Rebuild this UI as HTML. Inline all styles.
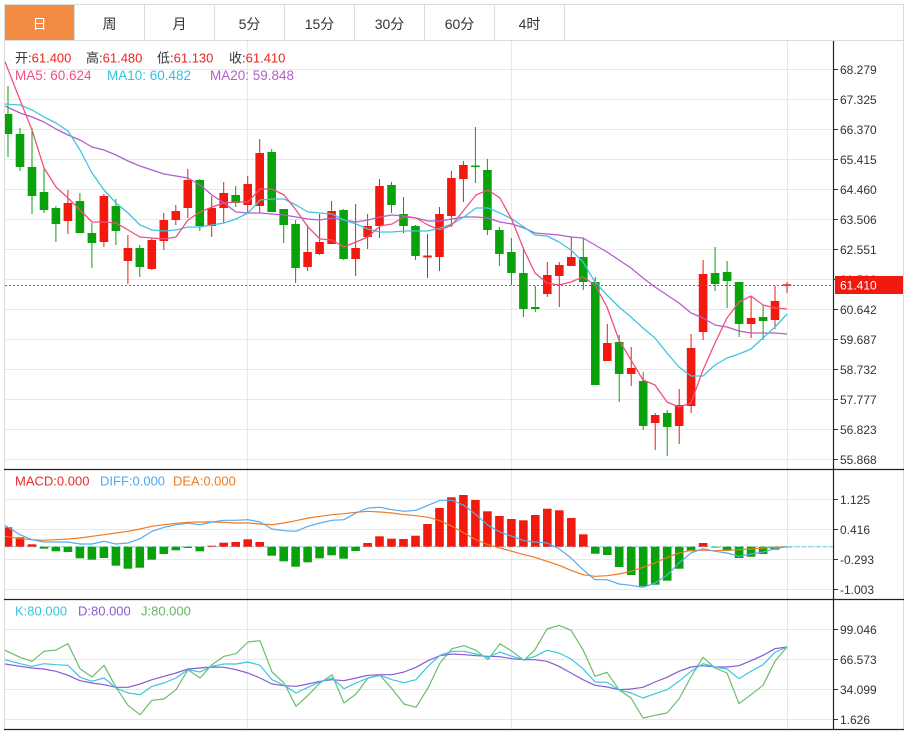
<!DOCTYPE html>
<html><head><meta charset="utf-8"><style>
html,body{margin:0;padding:0;background:#fff;}
svg{display:block;font-family:"Liberation Sans","Noto Sans CJK SC",sans-serif;}
</style></head><body>
<svg width="915" height="732" viewBox="0 0 915 732" xmlns="http://www.w3.org/2000/svg">
<defs><clipPath id="pa"><rect x="5" y="41" width="828" height="688"/></clipPath></defs>
<rect x="0" y="0" width="915" height="732" fill="#fff"/>
<!-- tab bar -->
<rect x="4.5" y="4.5" width="899" height="36" fill="#fff" stroke="#dcdcdc"/>
<rect x="5" y="5" width="69" height="35" fill="#f28c44"/>
<g stroke="#dcdcdc"><line x1="74.5" y1="5" x2="74.5" y2="40"/><line x1="144.5" y1="5" x2="144.5" y2="40"/><line x1="214.5" y1="5" x2="214.5" y2="40"/><line x1="284.5" y1="5" x2="284.5" y2="40"/><line x1="354.5" y1="5" x2="354.5" y2="40"/><line x1="424.5" y1="5" x2="424.5" y2="40"/><line x1="494.5" y1="5" x2="494.5" y2="40"/><line x1="564.5" y1="5" x2="564.5" y2="40"/></g>
<g font-size="14" text-anchor="middle" fill="#333">
<text x="39.5" y="28.8" fill="#fff">日</text><text x="109.5" y="28.8">周</text><text x="179.5" y="28.8">月</text><text x="249.5" y="28.8">5分</text><text x="319.5" y="28.8">15分</text><text x="389.5" y="28.8">30分</text><text x="459.5" y="28.8">60分</text><text x="529.5" y="28.8">4时</text>
</g>
<!-- frame -->
<line x1="4.5" y1="40" x2="4.5" y2="730" stroke="#dcdcdc"/>
<line x1="903.5" y1="40" x2="903.5" y2="730" stroke="#dcdcdc"/>
<!-- grid -->
<g stroke="#e3e9ef" stroke-width="1">
<line x1="5" y1="69.5" x2="833" y2="69.5"/><line x1="5" y1="99.5" x2="833" y2="99.5"/><line x1="5" y1="129.5" x2="833" y2="129.5"/><line x1="5" y1="159.5" x2="833" y2="159.5"/><line x1="5" y1="189.5" x2="833" y2="189.5"/><line x1="5" y1="219.5" x2="833" y2="219.5"/><line x1="5" y1="249.5" x2="833" y2="249.5"/><line x1="5" y1="279.5" x2="833" y2="279.5"/><line x1="5" y1="309.5" x2="833" y2="309.5"/><line x1="5" y1="339.5" x2="833" y2="339.5"/><line x1="5" y1="369.5" x2="833" y2="369.5"/><line x1="5" y1="399.5" x2="833" y2="399.5"/><line x1="5" y1="429.5" x2="833" y2="429.5"/><line x1="5" y1="459.5" x2="833" y2="459.5"/>
<line x1="5" y1="499.5" x2="833" y2="499.5"/><line x1="5" y1="529.5" x2="833" y2="529.5"/><line x1="5" y1="559.5" x2="833" y2="559.5"/><line x1="5" y1="589.5" x2="833" y2="589.5"/>
<line x1="5" y1="629.5" x2="833" y2="629.5"/><line x1="5" y1="659.5" x2="833" y2="659.5"/><line x1="5" y1="689.5" x2="833" y2="689.5"/><line x1="5" y1="719.5" x2="833" y2="719.5"/>
<line x1="247.5" y1="41" x2="247.5" y2="729"/><line x1="511.5" y1="41" x2="511.5" y2="729"/><line x1="787.5" y1="41" x2="787.5" y2="729"/>
</g>
<!-- headers -->
<g font-size="13">
<text x="15" y="62.3"><tspan fill="#333">开:</tspan><tspan fill="#f0231e">61.400</tspan></text>
<text x="86" y="62.3"><tspan fill="#333">高:</tspan><tspan fill="#f0231e">61.480</tspan></text>
<text x="157" y="62.3"><tspan fill="#333">低:</tspan><tspan fill="#f0231e">61.130</tspan></text>
<text x="229" y="62.3"><tspan fill="#333">收:</tspan><tspan fill="#f0231e">61.410</tspan></text>
</g>
<g font-size="13.5">
<text x="15" y="80" fill="#ef5080">MA5: 60.624</text>
<text x="107" y="80" fill="#30c3df">MA10: 60.482</text>
<text x="210" y="80" fill="#b35ecf">MA20: 59.848</text>
</g>
<g font-size="13">
<text x="15" y="485.5" fill="#f0282a">MACD:0.000</text>
<text x="100" y="485.5" fill="#4fa8f2">DIFF:0.000</text>
<text x="173" y="485.5" fill="#f27a1e">DEA:0.000</text>
<text x="15" y="615.5" fill="#35c4e0">K:80.000</text>
<text x="78" y="615.5" fill="#8b5ad6">D:80.000</text>
<text x="141" y="615.5" fill="#5fb85f">J:80.000</text>
</g>
<g clip-path="url(#pa)">
<!-- candles red -->
<g stroke="#f2190f" fill="#f2190f" stroke-width="1">
<line x1="67.9" y1="190" x2="67.9" y2="234"/><rect x="63.6" y="203" width="8.6" height="18" stroke="none"/>
<line x1="103.9" y1="194" x2="103.9" y2="247"/><rect x="99.6" y="196" width="8.6" height="46" stroke="none"/>
<line x1="127.9" y1="235" x2="127.9" y2="284"/><rect x="123.6" y="248" width="8.6" height="13" stroke="none"/>
<line x1="151.8" y1="238" x2="151.8" y2="270"/><rect x="147.5" y="240" width="8.6" height="29" stroke="none"/>
<line x1="163.8" y1="213" x2="163.8" y2="250"/><rect x="159.5" y="220" width="8.6" height="21" stroke="none"/>
<line x1="175.8" y1="205" x2="175.8" y2="225"/><rect x="171.5" y="211" width="8.6" height="9" stroke="none"/>
<line x1="187.8" y1="169" x2="187.8" y2="218"/><rect x="183.5" y="180" width="8.6" height="28" stroke="none"/>
<line x1="211.7" y1="196" x2="211.7" y2="237"/><rect x="207.4" y="208" width="8.6" height="18" stroke="none"/>
<line x1="223.7" y1="182" x2="223.7" y2="223"/><rect x="219.4" y="193" width="8.6" height="15" stroke="none"/>
<line x1="247.7" y1="176" x2="247.7" y2="213"/><rect x="243.4" y="184" width="8.6" height="21" stroke="none"/>
<line x1="259.7" y1="139" x2="259.7" y2="213"/><rect x="255.4" y="153" width="8.6" height="53" stroke="none"/>
<line x1="307.6" y1="225" x2="307.6" y2="271"/><rect x="303.3" y="252" width="8.6" height="15" stroke="none"/>
<line x1="319.6" y1="214" x2="319.6" y2="255"/><rect x="315.3" y="242" width="8.6" height="12" stroke="none"/>
<line x1="331.6" y1="201" x2="331.6" y2="244"/><rect x="327.3" y="211" width="8.6" height="33" stroke="none"/>
<line x1="355.6" y1="204" x2="355.6" y2="276"/><rect x="351.3" y="248" width="8.6" height="11" stroke="none"/>
<line x1="367.6" y1="214" x2="367.6" y2="249"/><rect x="363.3" y="226" width="8.6" height="11" stroke="none"/>
<line x1="379.5" y1="179" x2="379.5" y2="238"/><rect x="375.2" y="186" width="8.6" height="40" stroke="none"/>
<line x1="427.5" y1="234" x2="427.5" y2="278"/><rect x="423.2" y="255.5" width="8.6" height="2" stroke="none"/>
<line x1="439.5" y1="207" x2="439.5" y2="271"/><rect x="435.2" y="214" width="8.6" height="43" stroke="none"/>
<line x1="451.4" y1="171" x2="451.4" y2="227"/><rect x="447.1" y="178" width="8.6" height="38" stroke="none"/>
<line x1="463.4" y1="161" x2="463.4" y2="202"/><rect x="459.1" y="165" width="8.6" height="14" stroke="none"/>
<line x1="547.3" y1="262" x2="547.3" y2="297"/><rect x="543" y="275" width="8.6" height="19" stroke="none"/>
<line x1="559.3" y1="262" x2="559.3" y2="307"/><rect x="555" y="265" width="8.6" height="11" stroke="none"/>
<line x1="571.3" y1="237" x2="571.3" y2="266"/><rect x="567" y="257" width="8.6" height="9" stroke="none"/>
<line x1="607.3" y1="324" x2="607.3" y2="361"/><rect x="603" y="343" width="8.6" height="18" stroke="none"/>
<line x1="631.2" y1="347" x2="631.2" y2="386"/><rect x="626.9" y="368" width="8.6" height="6" stroke="none"/>
<line x1="655.2" y1="413" x2="655.2" y2="450"/><rect x="650.9" y="415" width="8.6" height="8" stroke="none"/>
<line x1="679.2" y1="389" x2="679.2" y2="444"/><rect x="674.9" y="405" width="8.6" height="21" stroke="none"/>
<line x1="691.1" y1="334" x2="691.1" y2="413"/><rect x="686.8" y="348" width="8.6" height="58" stroke="none"/>
<line x1="703.1" y1="260" x2="703.1" y2="340"/><rect x="698.8" y="274" width="8.6" height="58" stroke="none"/>
<line x1="751.1" y1="296" x2="751.1" y2="338"/><rect x="746.8" y="318" width="8.6" height="6" stroke="none"/>
<line x1="775" y1="286" x2="775" y2="329"/><rect x="770.7" y="301" width="8.6" height="19" stroke="none"/>
<line x1="787" y1="282" x2="787" y2="293"/><rect x="782.7" y="284.3" width="8.6" height="1.6" stroke="none"/>
</g>
<!-- candles green -->
<g stroke="#0aa20c" fill="#0aa20c" stroke-width="1">
<line x1="8" y1="86" x2="8" y2="157"/><rect x="3.7" y="114" width="8.6" height="20" stroke="none"/>
<line x1="20" y1="128" x2="20" y2="171"/><rect x="15.7" y="134" width="8.6" height="33" stroke="none"/>
<line x1="32" y1="128" x2="32" y2="214"/><rect x="27.7" y="167" width="8.6" height="29" stroke="none"/>
<line x1="44" y1="169" x2="44" y2="213"/><rect x="39.7" y="192" width="8.6" height="18" stroke="none"/>
<line x1="55.9" y1="206" x2="55.9" y2="242"/><rect x="51.6" y="208" width="8.6" height="16" stroke="none"/>
<line x1="79.9" y1="193" x2="79.9" y2="233"/><rect x="75.6" y="201" width="8.6" height="32" stroke="none"/>
<line x1="91.9" y1="223" x2="91.9" y2="268"/><rect x="87.6" y="233" width="8.6" height="10" stroke="none"/>
<line x1="115.9" y1="199" x2="115.9" y2="245"/><rect x="111.6" y="206" width="8.6" height="25" stroke="none"/>
<line x1="139.8" y1="245" x2="139.8" y2="277"/><rect x="135.5" y="248" width="8.6" height="19" stroke="none"/>
<line x1="199.8" y1="179" x2="199.8" y2="231"/><rect x="195.5" y="180" width="8.6" height="46" stroke="none"/>
<line x1="235.7" y1="186" x2="235.7" y2="207"/><rect x="231.4" y="195" width="8.6" height="8" stroke="none"/>
<line x1="271.7" y1="149" x2="271.7" y2="212"/><rect x="267.4" y="152" width="8.6" height="60" stroke="none"/>
<line x1="283.7" y1="209" x2="283.7" y2="243"/><rect x="279.4" y="209" width="8.6" height="16" stroke="none"/>
<line x1="295.6" y1="220" x2="295.6" y2="283"/><rect x="291.3" y="224" width="8.6" height="44" stroke="none"/>
<line x1="343.6" y1="209" x2="343.6" y2="260"/><rect x="339.3" y="210" width="8.6" height="49" stroke="none"/>
<line x1="391.5" y1="182" x2="391.5" y2="213"/><rect x="387.2" y="185" width="8.6" height="20" stroke="none"/>
<line x1="403.5" y1="197" x2="403.5" y2="233"/><rect x="399.2" y="214" width="8.6" height="12" stroke="none"/>
<line x1="415.5" y1="225" x2="415.5" y2="260"/><rect x="411.2" y="226" width="8.6" height="30" stroke="none"/>
<line x1="475.4" y1="127" x2="475.4" y2="183"/><rect x="471.1" y="165.5" width="8.6" height="1.6" stroke="none"/>
<line x1="487.4" y1="159" x2="487.4" y2="235"/><rect x="483.1" y="170" width="8.6" height="60" stroke="none"/>
<line x1="499.4" y1="227" x2="499.4" y2="266"/><rect x="495.1" y="230" width="8.6" height="24" stroke="none"/>
<line x1="511.4" y1="238" x2="511.4" y2="285"/><rect x="507.1" y="252" width="8.6" height="21" stroke="none"/>
<line x1="523.4" y1="249" x2="523.4" y2="317"/><rect x="519.1" y="273" width="8.6" height="36" stroke="none"/>
<line x1="535.3" y1="286" x2="535.3" y2="312"/><rect x="531" y="307" width="8.6" height="2" stroke="none"/>
<line x1="583.3" y1="238" x2="583.3" y2="290"/><rect x="579" y="257" width="8.6" height="25" stroke="none"/>
<line x1="595.3" y1="277" x2="595.3" y2="385"/><rect x="591" y="282" width="8.6" height="103" stroke="none"/>
<line x1="619.2" y1="335" x2="619.2" y2="402"/><rect x="614.9" y="342" width="8.6" height="32" stroke="none"/>
<line x1="643.2" y1="372" x2="643.2" y2="430"/><rect x="638.9" y="381" width="8.6" height="45" stroke="none"/>
<line x1="667.2" y1="410" x2="667.2" y2="456"/><rect x="662.9" y="413" width="8.6" height="14" stroke="none"/>
<line x1="715.1" y1="247" x2="715.1" y2="291"/><rect x="710.8" y="273" width="8.6" height="11" stroke="none"/>
<line x1="727.1" y1="261" x2="727.1" y2="308"/><rect x="722.8" y="272" width="8.6" height="9" stroke="none"/>
<line x1="739.1" y1="282" x2="739.1" y2="337"/><rect x="734.8" y="282" width="8.6" height="42" stroke="none"/>
<line x1="763.1" y1="305" x2="763.1" y2="340"/><rect x="758.8" y="317" width="8.6" height="4" stroke="none"/>
</g>
<!-- MA lines -->
<g fill="none" stroke-width="1.3" stroke-linejoin="round">
<polyline stroke="#b35ecf" points="5,106 20,113 32,117 44,122 56,129 68,135 80,140 92,147 104,150 116,155 128,161 140,166 152,170 164,174 176,176 188,178 200,185 212,195 224,203 236,212 248,213 260,213 272,214 284,215 296,217 308,219 320,220 332,218 344,220 356,222 368,220 380,217 392,215 404,216 416,218 428,221 440,221 452,219 464,217 476,217 488,218 500,222 512,224 524,228 535,233 547,234 559,235 571,237 583,238 595,245 607,252 619,260 631,268 643,278 655,287 667,295 679,303 691,313 703,318 715,325 727,327 739,331 751,333 763,333 775,333 787,334"/>
<polyline stroke="#3ec6e0" points="5,104 20,105 32,110 44,117 56,123 68,131 80,150 92,173 104,190 116,203 128,213 140,225 152,230 164,231 176,230 188,227 200,227 212,225 224,223 236,219 248,213 260,200 272,199 284,199 296,205 308,212 320,213 332,214 344,220 356,224 368,229 380,232 392,232 404,231 416,231 428,231 440,228 452,224 464,217 476,208 488,208 500,213 512,219 524,227 535,235 547,236 559,242 571,250 583,262 595,282 607,295 619,307 631,317 643,328 655,338 667,353 679,367 691,376 703,376 715,365 727,358 739,354 751,349 763,338 775,327 787,314"/>
</g>
</g>
<polyline fill="none" stroke="#ef5080" stroke-width="1.3" stroke-linejoin="round" points="5,61.7 20,100 32,130 44,168 56,187 68,198 80,210 92,222 104,222 116,223 128,230 140,237 152,238 164,239 176,237 188,220 200,212 212,207 224,203 236,202 248,202 260,189 272,189 284,195 296,210 308,227 320,239 332,240 344,247 356,242 368,237 380,226 392,224 404,217 416,218 428,225 440,230 452,225 464,210 476,195 488,190 500,198 512,220 524,250 535,273 547,283 559,285 571,282 583,277 595,285 607,307 619,340 631,360 643,380 655,385 667,402 679,407 691,403 703,370 715,343 727,318 739,302 751,296 763,305 775,308 787,309"/>
<!-- last price dotted line -->
<line x1="5" y1="285.5" x2="833" y2="285.5" stroke="#f0302a" stroke-width="1" stroke-dasharray="2 2"/>
<!-- MACD -->
<g clip-path="url(#pa)">
<line x1="5" y1="546.7" x2="833" y2="546.7" stroke="#80cfe6" stroke-width="1" stroke-dasharray="4 3"/>
<g fill="#f2190f">
<rect x="3.7" y="527.3" width="8.6" height="19.4"/><rect x="15.7" y="537.3" width="8.6" height="9.4"/><rect x="27.7" y="544.3" width="8.6" height="2.4"/>
<rect x="207.4" y="545.7" width="8.6" height="1"/><rect x="219.4" y="542.7" width="8.6" height="4"/><rect x="231.4" y="542" width="8.6" height="4.7"/><rect x="243.4" y="539.3" width="8.6" height="7.4"/><rect x="255.4" y="542" width="8.6" height="4.7"/>
<rect x="363.3" y="543" width="8.6" height="3.7"/><rect x="375.2" y="536.3" width="8.6" height="10.4"/><rect x="387.2" y="538.7" width="8.6" height="8"/><rect x="399.2" y="539" width="8.6" height="7.7"/><rect x="411.2" y="535.7" width="8.6" height="11"/><rect x="423.2" y="524" width="8.6" height="22.7"/><rect x="435.2" y="508" width="8.6" height="38.7"/><rect x="447.1" y="497.3" width="8.6" height="49.4"/><rect x="459.1" y="495" width="8.6" height="51.7"/><rect x="471.1" y="500" width="8.6" height="46.7"/><rect x="483.1" y="511.3" width="8.6" height="35.4"/><rect x="495.1" y="516" width="8.6" height="30.7"/><rect x="507.1" y="519" width="8.6" height="27.7"/><rect x="519.1" y="520.3" width="8.6" height="26.4"/><rect x="531" y="515" width="8.6" height="31.7"/><rect x="543" y="508.7" width="8.6" height="38"/><rect x="555" y="510.3" width="8.6" height="36.4"/><rect x="567" y="518" width="8.6" height="28.7"/><rect x="579" y="534.3" width="8.6" height="12.4"/>
<rect x="698.8" y="543" width="8.6" height="3.7"/>
</g>
<g fill="#0aa20c">
<rect x="39.7" y="546.7" width="8.6" height="2"/><rect x="51.6" y="546.7" width="8.6" height="4.6"/><rect x="63.6" y="546.7" width="8.6" height="5.3"/><rect x="75.6" y="546.7" width="8.6" height="11.6"/><rect x="87.6" y="546.7" width="8.6" height="13"/><rect x="99.6" y="546.7" width="8.6" height="11.3"/><rect x="111.6" y="546.7" width="8.6" height="19"/><rect x="123.6" y="546.7" width="8.6" height="22"/><rect x="135.5" y="546.7" width="8.6" height="21"/><rect x="147.5" y="546.7" width="8.6" height="13"/><rect x="159.5" y="546.7" width="8.6" height="7.3"/><rect x="171.5" y="546.7" width="8.6" height="3.6"/><rect x="183.5" y="546.7" width="8.6" height="1.3"/><rect x="195.5" y="546.7" width="8.6" height="4.6"/>
<rect x="267.4" y="546.7" width="8.6" height="9"/><rect x="279.4" y="546.7" width="8.6" height="14.6"/><rect x="291.3" y="546.7" width="8.6" height="20"/><rect x="303.3" y="546.7" width="8.6" height="15.6"/><rect x="315.3" y="546.7" width="8.6" height="11.6"/><rect x="327.3" y="546.7" width="8.6" height="8.6"/><rect x="339.3" y="546.7" width="8.6" height="12"/><rect x="351.3" y="546.7" width="8.6" height="4.3"/>
<rect x="591" y="546.7" width="8.6" height="7"/><rect x="603" y="546.7" width="8.6" height="8.3"/><rect x="614.9" y="546.7" width="8.6" height="20.3"/><rect x="626.9" y="546.7" width="8.6" height="28.3"/><rect x="638.9" y="546.7" width="8.6" height="39.6"/><rect x="650.9" y="546.7" width="8.6" height="38"/><rect x="662.9" y="546.7" width="8.6" height="34"/><rect x="674.9" y="546.7" width="8.6" height="22"/><rect x="686.8" y="546.7" width="8.6" height="4.6"/>
<rect x="710.8" y="546.7" width="8.6" height="0.8"/><rect x="722.8" y="546.7" width="8.6" height="4"/><rect x="734.8" y="546.7" width="8.6" height="11.3"/><rect x="746.8" y="546.7" width="8.6" height="10"/><rect x="758.8" y="546.7" width="8.6" height="7.3"/><rect x="770.7" y="546.7" width="8.6" height="3"/><rect x="782.7" y="546.7" width="8.6" height="0.8"/>
</g>
<g fill="none" stroke-width="1.2" stroke-linejoin="round">
<polyline stroke="#f27a1e" points="5,536.3 20,538.7 32,539.7 44,540.3 56,539.7 68,539 80,538 92,536.3 104,534.7 116,533 128,531.3 140,529 152,526.3 164,524.7 176,523.3 188,522.3 200,522 212,522 224,522.3 236,523 248,523 260,524 272,524.7 284,523 296,520.7 308,518 320,516.3 332,514.7 344,513.7 356,512.3 368,511.3 380,512 392,513 404,514.7 416,515.7 428,517.3 440,520.7 452,526.3 464,533 476,539.7 488,544.7 500,548 512,551.3 524,554.7 535,557.3 547,561.3 559,565.3 571,570.3 583,574.7 595,576.3 607,575.7 619,574 631,571.3 643,567.3 655,563 667,557.3 679,553 691,550.3 703,550.3 715,550.7 727,550.3 739,549.7 751,549 763,548 775,547.3 787,546.7"/>
<polyline stroke="#56aaf0" points="5,525.3 20,534.7 32,539.7 44,542 56,542 68,542 80,544 92,544 104,541.3 116,544 128,543 140,538.7 152,531.3 164,527.3 176,524.7 188,523.3 200,524.7 212,522 224,520.3 236,520.3 248,519.7 260,522 272,529 284,530.7 296,531.3 308,526.3 320,523 332,520.3 344,519.7 356,513 368,508 380,507.3 392,509.7 404,511.3 416,510.3 428,505.3 440,500.3 452,500.3 464,505.3 476,514.7 488,525.3 500,532 512,536.3 524,540.7 535,542 547,543 559,548.7 571,558 583,569.7 595,579.7 607,579.7 619,584 631,585.3 643,587.3 655,583 667,575.3 679,563 691,553 703,548.7 715,551.3 727,553 739,556.3 751,554 763,552 775,548.7 787,546.7"/>
</g>
<!-- KDJ -->
<g fill="none" stroke-width="1.2" stroke-linejoin="round">
<polyline stroke="#6cbd6c" points="5,650.3 20,657.3 32,661.3 44,651.3 56,650 68,643.7 80,668.7 92,677 104,665.3 116,687.3 128,705.3 140,714.7 152,700.3 164,699 176,689.7 188,669.7 200,678 212,664.7 224,656.3 236,653.7 248,642 260,640.7 272,672 284,683 296,706.3 308,695.3 320,683 332,674.7 344,703 356,694 368,678 380,675.3 392,688.7 404,704 416,707.3 428,688 440,663 452,648.7 464,645.7 476,650.3 488,659.7 500,643.7 512,651.3 524,660.3 535,649.7 547,629 559,625.3 571,630.3 583,649.7 595,676.3 607,672.3 619,689.7 631,698 643,718 655,715.3 667,713 679,699 691,677 703,657.3 715,668 727,673 739,703.7 751,694.7 763,685.3 775,661.3 787,647"/>
<polyline stroke="#8b5ad6" points="5,664 20,666.3 32,668 44,669 56,671.3 68,675.3 80,680.7 92,683 104,684.7 116,687.3 128,687.3 140,684 152,679.7 164,676.3 176,673 188,669 200,668 212,667 224,667.3 236,669.7 248,673 260,678 272,684 284,685.7 296,686.3 308,684 320,681.3 332,679.7 344,680.7 356,678 368,675.3 380,674.7 392,674.7 404,672 416,667.3 428,660.7 440,655.7 452,654 464,654.7 476,655.7 488,656.3 500,656.7 512,658.7 524,659.7 535,659.7 547,661.3 559,666.3 571,673 583,679.7 595,685.3 607,687 619,689.7 631,689 643,687.3 655,682 667,677.3 679,671.3 691,667 703,665.7 715,667 727,667 739,665.7 751,660.7 763,655.3 775,648.7 787,647"/>
<polyline stroke="#3cc6e2" points="5,659.7 20,663.7 32,666.3 44,663.7 56,664.7 68,665.3 80,677.3 92,681.3 104,678 116,688 128,693 140,694.7 152,686.3 164,683 176,678 188,669.7 200,672 212,666.3 224,664 236,664 248,662 260,665.3 272,679.7 284,685.3 296,693 308,687.3 320,682 332,678 344,688.7 356,683 368,678 380,675.3 392,679.7 404,682.7 416,679.7 428,666.3 440,655.3 452,651.3 464,651.3 476,654 488,657.3 500,652 512,656.3 524,659.7 535,656.3 547,650.3 559,653 571,659 583,668.7 595,682 607,682.3 619,689.7 631,693 643,698 655,693.7 667,689.7 679,681.3 691,671.3 703,663.7 715,667 727,669 739,678.7 751,671.3 763,664.7 775,652.3 787,647"/>
</g>
</g>
<!-- panel separators and axis -->
<g stroke="#222" stroke-width="1.2">
<line x1="4" y1="469.5" x2="904" y2="469.5"/>
<line x1="4" y1="599.5" x2="904" y2="599.5"/>
<line x1="4" y1="729.5" x2="904" y2="729.5"/>
<line x1="833.5" y1="41" x2="833.5" y2="730"/>
</g>
<!-- ticks -->
<g stroke="#333" stroke-width="1">
<line x1="833" y1="69.5" x2="838" y2="69.5"/><line x1="833" y1="99.5" x2="838" y2="99.5"/><line x1="833" y1="129.5" x2="838" y2="129.5"/><line x1="833" y1="159.5" x2="838" y2="159.5"/><line x1="833" y1="189.5" x2="838" y2="189.5"/><line x1="833" y1="219.5" x2="838" y2="219.5"/><line x1="833" y1="249.5" x2="838" y2="249.5"/><line x1="833" y1="279.5" x2="838" y2="279.5"/><line x1="833" y1="309.5" x2="838" y2="309.5"/><line x1="833" y1="339.5" x2="838" y2="339.5"/><line x1="833" y1="369.5" x2="838" y2="369.5"/><line x1="833" y1="399.5" x2="838" y2="399.5"/><line x1="833" y1="429.5" x2="838" y2="429.5"/><line x1="833" y1="459.5" x2="838" y2="459.5"/>
<line x1="833" y1="499.5" x2="838" y2="499.5"/><line x1="833" y1="529.5" x2="838" y2="529.5"/><line x1="833" y1="559.5" x2="838" y2="559.5"/><line x1="833" y1="589.5" x2="838" y2="589.5"/>
<line x1="833" y1="629.5" x2="838" y2="629.5"/><line x1="833" y1="659.5" x2="838" y2="659.5"/><line x1="833" y1="689.5" x2="838" y2="689.5"/><line x1="833" y1="719.5" x2="838" y2="719.5"/>
</g>
<g font-size="12" fill="#333">
<text x="840" y="73.8">68.279</text><text x="840" y="103.8">67.325</text><text x="840" y="133.8">66.370</text><text x="840" y="163.8">65.415</text><text x="840" y="193.8">64.460</text><text x="840" y="223.8">63.506</text><text x="840" y="253.8">62.551</text><text x="840" y="283.8">61.596</text><text x="840" y="313.8">60.642</text><text x="840" y="343.8">59.687</text><text x="840" y="373.8">58.732</text><text x="840" y="403.8">57.777</text><text x="840" y="433.8">56.823</text><text x="840" y="463.8">55.868</text>
<text x="840" y="503.8">1.125</text><text x="840" y="533.8">0.416</text><text x="840" y="563.8">-0.293</text><text x="840" y="593.8">-1.003</text>
<text x="840" y="633.8">99.046</text><text x="840" y="663.8">66.573</text><text x="840" y="693.8">34.099</text><text x="840" y="723.8">1.626</text>
</g>
<line x1="787" y1="546.7" x2="833" y2="546.7" stroke="#80cfe6" stroke-width="1" stroke-dasharray="4 3"/>
<rect x="835" y="276" width="68" height="18" fill="#f2190f"/>
<text x="840" y="289.5" font-size="12" fill="#fff">61.410</text>
</svg>
</body></html>
